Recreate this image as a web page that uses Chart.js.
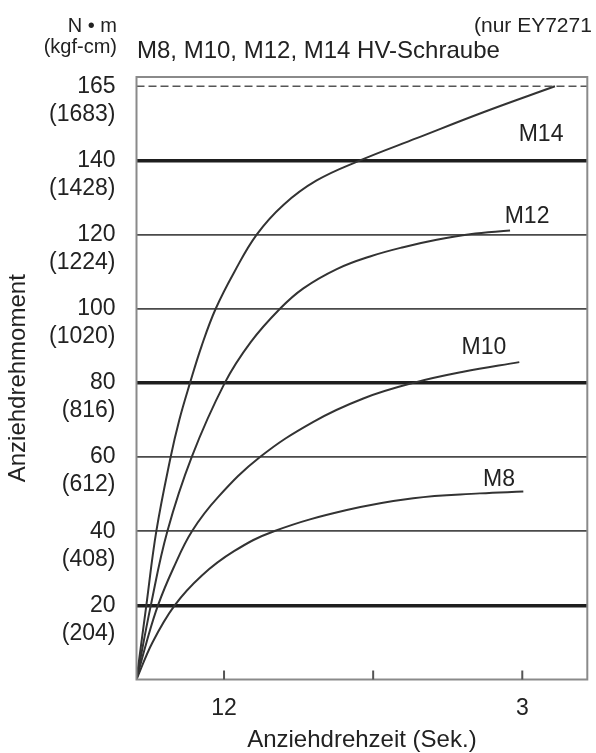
<!DOCTYPE html>
<html>
<head>
<meta charset="utf-8">
<script src="https://cdn.jsdelivr.net/npm/chart.js@4.4.1/dist/chart.umd.min.js"></script>
<style>
html,body{margin:0;padding:0;background:#fff;}
#wrap{width:596px;height:753px;position:relative;}
</style>
</head>
<body>
<div id="wrap"><canvas id="c" width="596" height="753"></canvas></div>
<script>
// ---- Tick labels (y positions are in grid units; the top line, 165 N·m, sits one grid step above 140) ----
const yTickValues = [20, 40, 60, 80, 100, 120, 140, 160];
const yTickNm     = ['20', '40', '60', '80', '100', '120', '140', '165'];
const yTickKgf    = ['(204)', '(408)', '(612)', '(816)', '(1020)', '(1224)', '(1428)', '(1683)'];
const xTickValues = [1, 2, 3];
const xTickLabels = ['12', '', '3'];
const limitValue  = 160;   // dashed 165 N·m line (grid units)

// ---- Series (x = time axis units, y = torque in grid units) ----
const seriesNames = ['M14', 'M12', 'M10', 'M8'];
const m14X = [0.413, 0.479, 0.546, 0.642, 0.70, 0.772, 0.85, 0.944, 1.07, 1.219, 1.398, 1.621, 1.912, 2.292, 2.739, 3.219];
const m14Y = [0, 20, 40, 60, 70, 80, 90, 100, 110, 120, 128, 134.6, 140, 146, 153, 160];
const m12X = [0.413, 0.509, 0.620, 0.783, 1.005, 1.179, 1.375, 1.532, 1.756, 1.979, 2.202, 2.426, 2.649, 2.918];
const m12Y = [0, 20, 40, 60, 80, 91, 100, 105.5, 110.7, 114.1, 116.6, 118.6, 120.1, 121.1];
const m10X = [0.413, 0.48, 0.557, 0.66, 0.785, 0.96, 1.241, 1.599, 1.934, 2.269, 2.604, 2.980];
const m10Y = [0, 10, 20, 30, 40, 49.2, 60, 69.5, 75.8, 80, 83, 85.6];
const m8X  = [0.413, 0.52, 0.669, 0.85, 1.067, 1.335, 1.823, 2.269, 2.716, 3.007];
const m8Y  = [0, 10, 20, 28, 34.6, 40, 45.7, 48.9, 50.2, 50.7];

// ---- Label anchor positions for the series names (separate from data) ----
const labelAnchorX = [3.126, 3.032, 2.743, 2.844];
const labelAnchorY = [147.0, 124.8, 89.4, 53.9];

const X_MIN = 0.413, X_MAX = 3.436, Y_MAX = 162.5;
const FONT = "'Liberation Sans', Arial, Helvetica, sans-serif";
const zip = (xs, ys) => xs.map((x, i) => ({x, y: ys[i]}));
const seriesData = [zip(m14X, m14Y), zip(m12X, m12Y), zip(m10X, m10Y), zip(m8X, m8Y)];

const curveDatasets = seriesData.map((d, i) => ({
  label: seriesNames[i],
  data: d,
  borderColor: '#333',
  borderWidth: 2,
  pointRadius: 0,
  fill: false,
  tension: 0.4
}));

const limitDataset = {
  label: 'limit',
  data: [{x: X_MIN, y: limitValue}, {x: X_MAX, y: limitValue}],
  borderColor: '#555',
  borderWidth: 1.5,
  borderDash: [8, 4],
  pointRadius: 0,
  fill: false
};

const thick = new Set([20, 80, 140]);

const decorPlugin = {
  id: 'decor',
  afterDraw(chart) {
    const {ctx, chartArea: a, scales: {x, y}} = chart;
    ctx.save();
    // frame
    ctx.strokeStyle = '#8a8a8a';
    ctx.lineWidth = 2;
    ctx.strokeRect(a.left, a.top, a.right - a.left, a.bottom - a.top);
    // inward tick marks on the time axis
    ctx.strokeStyle = '#555';
    ctx.lineWidth = 2;
    x.ticks.forEach(t => {
      const px = x.getPixelForValue(t.value);
      ctx.beginPath();
      ctx.moveTo(px, a.bottom);
      ctx.lineTo(px, a.bottom - 9);
      ctx.stroke();
    });
    // series names
    ctx.fillStyle = '#222';
    ctx.font = '23px ' + FONT;
    ctx.textAlign = 'center';
    ctx.textBaseline = 'middle';
    seriesNames.forEach((n, i) => {
      ctx.fillText(n, x.getPixelForValue(labelAnchorX[i]), y.getPixelForValue(labelAnchorY[i]));
    });
    // header texts
    ctx.textBaseline = 'alphabetic';
    ctx.textAlign = 'right';
    ctx.font = '20px ' + FONT;
    ctx.fillText('N \u2022 m', 117, 32);
    ctx.fillText('(kgf-cm)', 117, 53);
    ctx.textAlign = 'left';
    ctx.font = '24px ' + FONT;
    ctx.fillText('M8, M10, M12, M14 HV-Schraube', 137, 58);
    ctx.font = '21px ' + FONT;
    ctx.fillText('(nur EY7271', 474, 32);
    ctx.restore();
  }
};

new Chart(document.getElementById('c'), {
  type: 'line',
  data: { datasets: [limitDataset, ...curveDatasets] },
  options: {
    responsive: false,
    animation: false,
    devicePixelRatio: 1,
    layout: { padding: { top: 77, right: 8.7, bottom: 0, left: 0 } },
    plugins: { legend: { display: false }, tooltip: { enabled: false } },
    scales: {
      x: {
        type: 'linear',
        min: X_MIN,
        max: X_MAX,
        afterBuildTicks: s => { s.ticks = xTickValues.map(v => ({value: v})); },
        afterFit: s => { s.height = 73.5; },
        grid: { display: false },
        border: { display: false },
        ticks: {
          autoSkip: false,
          maxRotation: 0,
          padding: 7,
          color: '#222',
          font: { family: FONT, size: 23 },
          callback: v => xTickLabels[xTickValues.indexOf(v)] ?? ''
        },
        title: {
          display: true,
          text: 'Anziehdrehzeit (Sek.)',
          color: '#222',
          font: { family: FONT, size: 24, lineHeight: 1 },
          padding: { top: 0, bottom: 1 }
        }
      },
      y: {
        type: 'linear',
        min: 0,
        max: Y_MAX,
        afterBuildTicks: s => { s.ticks = yTickValues.map(v => ({value: v})); },
        afterFit: s => { s.width = 136.5; },
        border: { display: false },
        grid: {
          drawTicks: false,
          color: c => {
            const v = c.tick && c.tick.value;
            if (v === limitValue) return 'rgba(0,0,0,0)';
            return thick.has(v) ? '#1e1e1e' : '#4a4a4a';
          },
          lineWidth: c => (c.tick && thick.has(c.tick.value)) ? 3.5 : 1.8
        },
        ticks: {
          autoSkip: false,
          padding: 21,
          color: '#222',
          font: { family: FONT, size: 23, lineHeight: 1.22 },
          callback: v => {
            const i = yTickValues.indexOf(v);
            return i < 0 ? '' : ['', yTickNm[i], yTickKgf[i]];
          }
        },
        title: {
          display: true,
          text: 'Anziehdrehmoment',
          color: '#222',
          font: { family: FONT, size: 24, lineHeight: 1.2 },
          padding: { top: 4, bottom: 0 }
        }
      }
    }
  },
  plugins: [decorPlugin]
});
</script>
</body>
</html>
